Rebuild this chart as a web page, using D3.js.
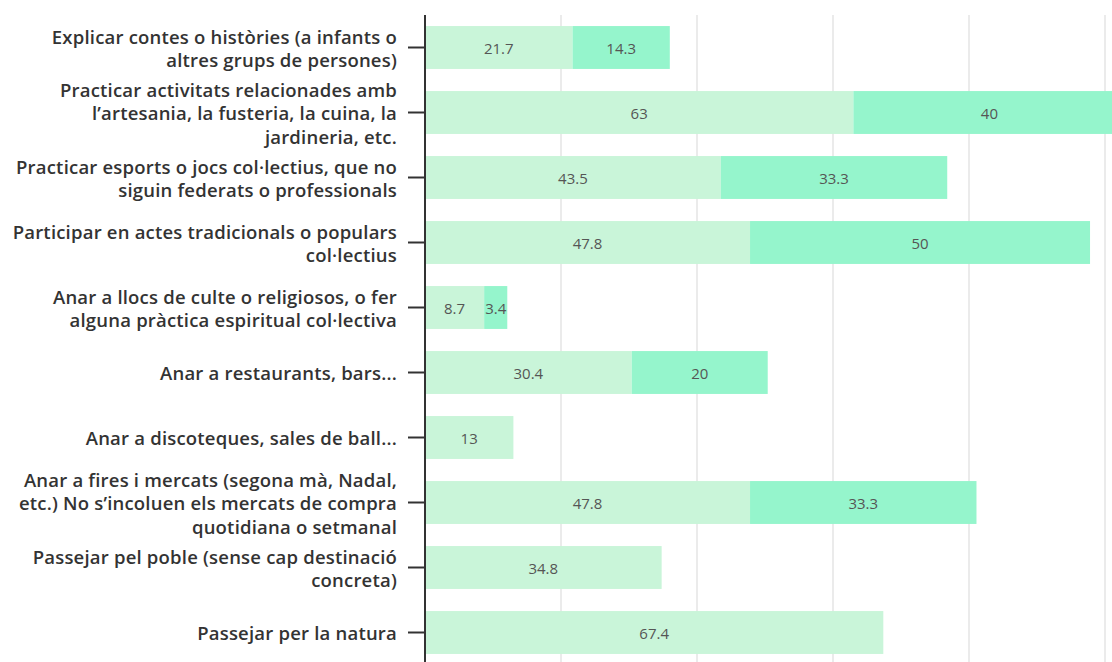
<!DOCTYPE html>
<html>
<head>
<meta charset="utf-8">
<script src="https://cdn.jsdelivr.net/npm/d3@7/dist/d3.min.js"></script>
<style>
  html, body { margin: 0; padding: 0; background: #fff; }
  svg { display: block; }
</style>
</head>
<body>
<svg id="chart" width="1112" height="662"></svg>
<script>
const categories = [
  ["Explicar contes o històries (a infants o", "altres grups de persones)"],
  ["Practicar activitats relacionades amb", "l’artesania, la fusteria, la cuina, la", "jardineria, etc."],
  ["Practicar esports o jocs col·lectius, que no", "siguin federats o professionals"],
  ["Participar en actes tradicionals o populars", "col·lectius"],
  ["Anar a llocs de culte o religiosos, o fer", "alguna pràctica espiritual col·lectiva"],
  ["Anar a restaurants, bars..."],
  ["Anar a discoteques, sales de ball..."],
  ["Anar a fires i mercats (segona mà, Nadal,", "etc.) No s’incoluen els mercats de compra", "quotidiana o setmanal"],
  ["Passejar pel poble (sense cap destinació", "concreta)"],
  ["Passejar per la natura"]
];
const seriesA = [21.7, 63, 43.5, 47.8, 8.7, 30.4, 13, 47.8, 34.8, 67.4];
const seriesB = [14.3, 40, 33.3, 50, 3.4, 20, 0, 33.3, 0, 0];
const gridTicks = [20, 40, 60, 80, 100];

const svg = d3.select("#chart");
const W = 1112, H = 662;
const x0 = 425;
const x = d3.scaleLinear().domain([0, 100]).range([x0, 1105]);
const ids = categories.map((c, i) => i);
const y = d3.scaleBand().domain(ids).range([15, 665]).paddingInner(0.34).paddingOuter(0.17);

// gridlines
svg.append("g").selectAll("line").data(gridTicks).join("line")
  .attr("x1", d => x(d)).attr("x2", d => x(d))
  .attr("y1", 15).attr("y2", H)
  .attr("stroke", "#e4e4e4").attr("stroke-width", 1.5);

const rows = ids.map(i => ({ i, a: seriesA[i], b: seriesB[i] }));
const stack = d3.stack().keys(["a", "b"])(rows);
const colors = { a: "#c9f5d9", b: "#95f5cc" };

const layers = svg.append("g").selectAll("g").data(stack).join("g")
  .attr("fill", d => colors[d.key]);
layers.selectAll("rect").data(d => d.filter(s => s[1] - s[0] > 0)).join("rect")
  .attr("x", d => x(d[0]))
  .attr("width", d => x(d[1]) - x(d[0]))
  .attr("y", d => y(d.data.i))
  .attr("height", y.bandwidth());

// value labels
const labG = svg.append("g");
stack.forEach(layer => {
  layer.forEach(s => {
    const v = s[1] - s[0];
    if (v <= 0) return;
    labG.append("text")
      .attr("x", (x(s[0]) + x(s[1])) / 2)
      .attr("y", y(s.data.i) + y.bandwidth() / 2)
      .attr("dy", "0.45em")
      .attr("text-anchor", "middle")
      .attr("font-family", "'Open Sans', sans-serif")
      .attr("font-size", 15)
      .attr("fill", "#555")
      .text(String(v.toFixed(1)).replace(/\.0$/, ""));
  });
});

// axis
const axis = d3.axisLeft(y).tickSize(17).tickFormat("").tickSizeOuter(0);
const ag = svg.append("g").attr("transform", `translate(${x0},0)`).call(axis);
ag.select(".domain").attr("stroke", "#333").attr("stroke-width", 2)
  .attr("d", `M0,15V${H}`);
ag.selectAll(".tick line").attr("stroke", "#333").attr("stroke-width", 2);

// category labels
const lineH = 23.5;
const cg = svg.append("g");
categories.forEach((lines, i) => {
  const cy = y(i) + y.bandwidth() / 2;
  const t = cg.append("text")
    .attr("text-anchor", "end")
    .attr("font-family", "'Open Sans', sans-serif")
    .attr("font-weight", 600)
    .attr("font-size", 18.5)
    .attr("letter-spacing", "0.2px")
    .attr("fill", "#333");
  lines.forEach((ln, k) => {
    t.append("tspan")
      .attr("x", 397)
      .attr("y", cy + (k - (lines.length - 1) / 2) * lineH)
      .attr("dy", "0.42em")
      .text(ln);
  });
});
</script>
</body>
</html>
